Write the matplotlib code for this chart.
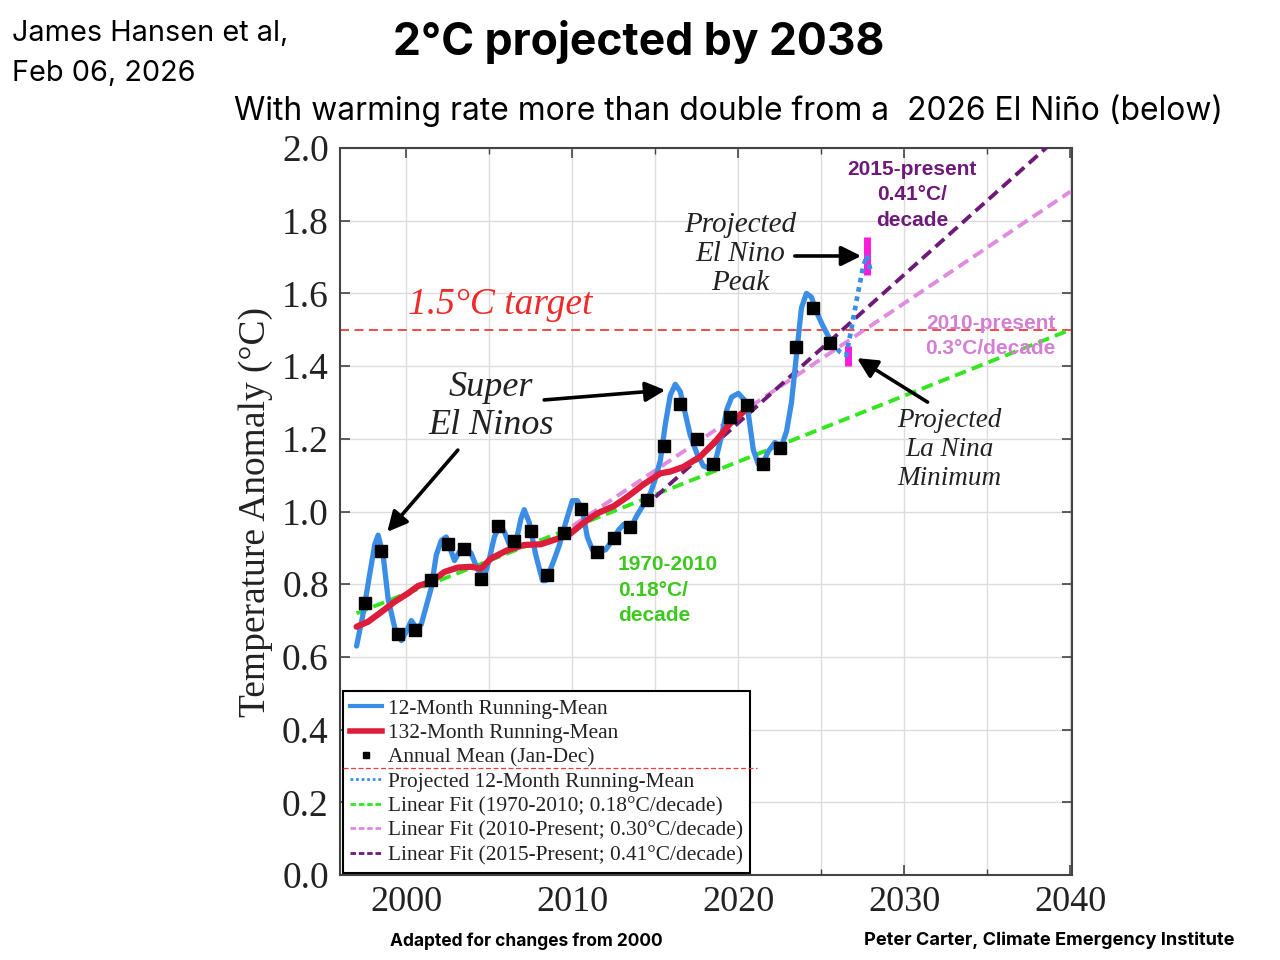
import matplotlib
matplotlib.use("Agg")
import matplotlib.pyplot as plt
from matplotlib.lines import Line2D
from matplotlib.ticker import MultipleLocator, FormatStrFormatter

# 12-month running mean (observed)
run12_year = [1997.0, 1997.4, 1997.8, 1998.1, 1998.3, 1998.6, 1998.9, 1999.3, 1999.7,
              2000.0, 2000.3, 2000.6, 2000.9, 2001.2, 2001.5, 2001.8, 2002.1, 2002.4,
              2002.7, 2002.9, 2003.2, 2003.5, 2003.9, 2004.3, 2004.7, 2005.0, 2005.3,
              2005.6, 2005.9, 2006.2, 2006.6, 2006.9, 2007.1, 2007.4, 2007.8, 2008.2,
              2008.4, 2008.8, 2009.2, 2009.6, 2010.0, 2010.3, 2010.6, 2010.9, 2011.2,
              2011.6, 2012.0, 2012.4, 2012.8, 2013.1, 2013.5, 2013.9, 2014.3, 2014.7,
              2015.0, 2015.3, 2015.6, 2015.9, 2016.2, 2016.5, 2016.8, 2017.1, 2017.5,
              2017.9, 2018.2, 2018.6, 2019.0, 2019.3, 2019.6, 2020.0, 2020.4, 2020.6,
              2020.9, 2021.2, 2021.5, 2021.8, 2022.2, 2022.6, 2022.9, 2023.2, 2023.5,
              2023.8, 2024.1, 2024.4, 2024.7, 2025.1, 2025.6]
run12_temp = [0.63, 0.72, 0.83, 0.91, 0.935, 0.88, 0.76, 0.68, 0.645,
              0.67, 0.70, 0.68, 0.69, 0.74, 0.79, 0.88, 0.92, 0.93,
              0.89, 0.865, 0.89, 0.905, 0.885, 0.84, 0.82, 0.87, 0.93,
              0.96, 0.945, 0.91, 0.915, 0.98, 1.005, 0.97, 0.88, 0.81,
              0.81, 0.855, 0.905, 0.97, 1.03, 1.03, 1.005, 0.93, 0.895,
              0.89, 0.895, 0.92, 0.95, 0.965, 0.955, 0.99, 1.02, 1.05,
              1.09, 1.14, 1.24, 1.32, 1.35, 1.33, 1.27, 1.21, 1.16,
              1.125, 1.12, 1.135, 1.21, 1.28, 1.315, 1.325, 1.305, 1.27,
              1.17, 1.13, 1.135, 1.165, 1.19, 1.18, 1.22, 1.30, 1.43,
              1.56, 1.60, 1.59, 1.55, 1.51, 1.467]

# projected 12-month running mean
proj_year = [2025.6, 2026.1, 2026.5, 2026.8, 2027.2, 2027.5, 2027.75, 2028.0]
proj_temp = [1.467, 1.44, 1.43, 1.50, 1.60, 1.67, 1.705, 1.655]

# 132-month running mean
run132_year = [1997.0, 1997.7, 1998.5, 1999.3, 2000.1, 2000.7, 2001.5, 2002.3, 2003.1,
               2003.9, 2004.5, 2005.1, 2006.1, 2007.1, 2008.1, 2009.1, 2009.9, 2010.7,
               2011.5, 2012.5, 2013.3, 2014.3, 2015.3, 2015.9, 2016.7, 2017.7, 2018.7,
               2019.5, 2020.3, 2020.6]
run132_temp = [0.683, 0.697, 0.724, 0.752, 0.775, 0.795, 0.807, 0.834, 0.846,
               0.848, 0.843, 0.871, 0.894, 0.908, 0.910, 0.925, 0.940, 0.970,
               0.995, 1.015, 1.04, 1.075, 1.105, 1.11, 1.123, 1.151, 1.197,
               1.242, 1.274, 1.29]

# annual means (Jan-Dec), plotted at mid-year
annual_year = [1997.5, 1998.5, 1999.5, 2000.5, 2001.5, 2002.5, 2003.5, 2004.5, 2005.5,
               2006.5, 2007.5, 2008.5, 2009.5, 2010.5, 2011.5, 2012.5, 2013.5, 2014.5,
               2015.5, 2016.5, 2017.5, 2018.5, 2019.5, 2020.5, 2021.5, 2022.5, 2023.5,
               2024.5, 2025.5]
annual_temp = [0.748, 0.891, 0.662, 0.674, 0.813, 0.912, 0.897, 0.814, 0.961,
               0.919, 0.947, 0.825, 0.940, 1.008, 0.889, 0.928, 0.958, 1.032,
               1.181, 1.295, 1.199, 1.132, 1.261, 1.292, 1.131, 1.174, 1.453,
               1.561, 1.465]

# linear fits (end points)
fit7010_year = [1997, 2040]
fit7010_temp = [0.72, 1.50]
fit2010_year = [2010, 2040]
fit2010_temp = [0.96, 1.88]
fit2015_year = [2015, 2040]
fit2015_temp = [1.04, 2.06]

# projected El Nino peak / La Nina minimum ranges
bar_year = [2026.6, 2027.75]
bar_low = [1.40, 1.65]
bar_high = [1.455, 1.755]

target = 1.5

blue = "#3a8ee6"
red = "#dc1e3c"
green = "#33e61e"
pink = "#e08ae0"
purple = "#6e1a78"
magenta = "#ff1adc"

serif = ["Liberation Serif", "DejaVu Serif"]

fig = plt.figure(figsize=(12.8, 9.6), dpi=100)
ax = fig.add_axes([0.2656, 0.0885, 0.5719, 0.7573])

ax.axhline(target, color="#f03c3c", lw=1.3, ls=(0, (5, 3)), zorder=2)

ax.plot(fit7010_year, fit7010_temp, color=green, lw=2.8, ls=(0, (3, 1.6)), zorder=3)
ax.plot(fit2010_year, fit2010_temp, color=pink, lw=2.8, ls=(0, (3, 1.6)), zorder=3)
ax.plot(fit2015_year, fit2015_temp, color=purple, lw=2.8, ls=(0, (3, 1.6)), zorder=3)

ax.plot(run12_year, run12_temp, color=blue, lw=3.8, zorder=4, solid_capstyle="round")
ax.plot(run132_year, run132_temp, color=red, lw=4.5, zorder=5, solid_capstyle="round")
ax.plot(proj_year, proj_temp, color=blue, lw=3.4, ls=(0, (1, 1)), zorder=5)
ax.vlines(bar_year, bar_low, bar_high, color=magenta, lw=5, zorder=4)
ax.plot(annual_year, annual_temp, "s", color="black", ms=8, zorder=6)

ax.set_xlim(1996.0, 2040.1)
ax.set_ylim(0, 2.0)
ax.xaxis.set_major_locator(MultipleLocator(10))
ax.xaxis.set_minor_locator(MultipleLocator(5))
ax.yaxis.set_major_locator(MultipleLocator(0.2))
ax.yaxis.set_major_formatter(FormatStrFormatter("%.1f"))
ax.grid(True, which="both", color="#dcdcdc", lw=1.0, zorder=0)
ax.set_axisbelow(True)
ax.tick_params(which="both", direction="in", top=True, right=True, color="#444444")
ax.tick_params(which="major", length=7, width=1.2)
ax.tick_params(which="minor", length=4, width=1.0)
ax.tick_params(axis="x", labelsize=26, pad=8, labelcolor="#222222")
ax.tick_params(axis="y", labelsize=27, pad=8, labelcolor="#222222")
for lab in ax.get_xticklabels() + ax.get_yticklabels():
    lab.set_family(serif)
for sp in ax.spines.values():
    sp.set_color("#444444")
    sp.set_linewidth(1.5)

ax.set_ylabel("Temperature Anomaly (°C)", family=serif, fontsize=27, color="#222222")
ax.yaxis.set_label_coords(-0.091, 0.5)

# annotations
ax.text(2000.1, 1.568, "1.5°C target", color="#ee2a2a", fontsize=27, style="italic",
        family=serif, va="center", ha="left")
ax.text(2005.1, 1.29, "Super\nEl Ninos", fontsize=26, style="italic", family=serif,
        ha="center", va="center", linespacing=1.2, color="#222222")
ax.text(2020.1, 1.708, "Projected\nEl Nino\nPeak", fontsize=21, style="italic", family=serif,
        ha="center", va="center", linespacing=1.15, color="#222222")
ax.text(2032.7, 1.17, "Projected\nLa Nina\nMinimum", fontsize=19.5, style="italic", family=serif,
        ha="center", va="center", linespacing=1.2, color="#222222")

arrow = dict(arrowstyle="-|>", lw=2.6, color="black", mutation_scale=30, shrinkA=0, shrinkB=0)
ax.annotate("", xy=(2015.6, 1.334), xytext=(2008.3, 1.307), arrowprops=arrow)
ax.annotate("", xy=(1998.85, 0.944), xytext=(2003.1, 1.169), arrowprops=arrow)
ax.annotate("", xy=(2027.4, 1.703), xytext=(2023.4, 1.703), arrowprops=arrow)
ax.annotate("", xy=(2027.15, 1.422), xytext=(2031.4, 1.301), arrowprops=arrow)

sans_b = dict(family=["Liberation Sans", "DejaVu Sans"], fontweight="bold", fontsize=15)
ax.text(2030.45, 1.871, "2015-present\n0.41°C/\ndecade", color=purple, ha="center",
        va="center", linespacing=1.45, **sans_b)
ax.text(2035.2, 1.483, "2010-present\n0.3°C/decade", color="#d47ed4", ha="center",
        va="center", linespacing=1.45, **sans_b)
ax.text(2012.75, 0.784, "1970-2010\n0.18°C/\ndecade", color="#3cc81c", ha="left",
        va="center", linespacing=1.45, **sans_b)

handles = [
    Line2D([], [], color=blue, lw=3),
    Line2D([], [], color=red, lw=4),
    Line2D([], [], ls="none", marker="s", color="black", ms=4),
    Line2D([], [], color=blue, lw=2, ls=(0, (1, 1))),
    Line2D([], [], color=green, lw=2, ls=(0, (2, 1))),
    Line2D([], [], color=pink, lw=2, ls=(0, (2, 1))),
    Line2D([], [], color=purple, lw=2, ls=(0, (2, 1))),
]
labels = [
    "12-Month Running-Mean",
    "132-Month Running-Mean",
    "Annual Mean (Jan-Dec)",
    "Projected 12-Month Running-Mean",
    "Linear Fit (1970-2010; 0.18°C/decade)",
    "Linear Fit (2010-Present; 0.30°C/decade)",
    "Linear Fit (2015-Present; 0.41°C/decade)",
]
leg = ax.legend(handles, labels, loc="lower left", bbox_to_anchor=(0.004, 0.003),
                prop={"family": serif, "size": 15.4}, handlelength=1.5, handletextpad=0.25,
                labelspacing=0.21, borderpad=0.35, borderaxespad=0, fancybox=False,
                framealpha=1, edgecolor="black")
leg.get_frame().set_linewidth(1.5)
for t in leg.get_texts():
    t.set_color("#222222")
# stray dashed line crossing the legend box
ax.axhline(0.295, xmin=0.004, xmax=0.57, color="#f03c3c", lw=0.9, ls=(0, (4, 2)), zorder=7)

# header / footer texts
head = ["Inter", "DejaVu Sans"]
fig.text(12 / 1280, 1 - 34 / 960, "James Hansen et al,", family=head, fontsize=20.8,
         ha="left", va="center")
fig.text(12 / 1280, 1 - 73 / 960, "Feb 06, 2026", family=head, fontsize=20.8,
         ha="left", va="center")
fig.text(639 / 1280, 1 - 42 / 960, "2°C projected by 2038", family=head, fontsize=32,
         fontweight="bold", ha="center", va="center")
fig.text(234 / 1280, 1 - 111 / 960, "With warming rate more than double from a  2026 El Niño (below)",
         family=head, fontsize=22.9, ha="left", va="center")
fig.text(526 / 1280, 1 - 941 / 960, "Adapted for changes from 2000", family=head,
         fontsize=12.5, fontweight="bold", ha="center", va="center")
fig.text(1049 / 1280, 1 - 940 / 960, "Peter Carter, Climate Emergency Institute", family=head,
         fontsize=13.1, fontweight="bold", ha="center", va="center")

fig.savefig("out.png", dpi=100)
